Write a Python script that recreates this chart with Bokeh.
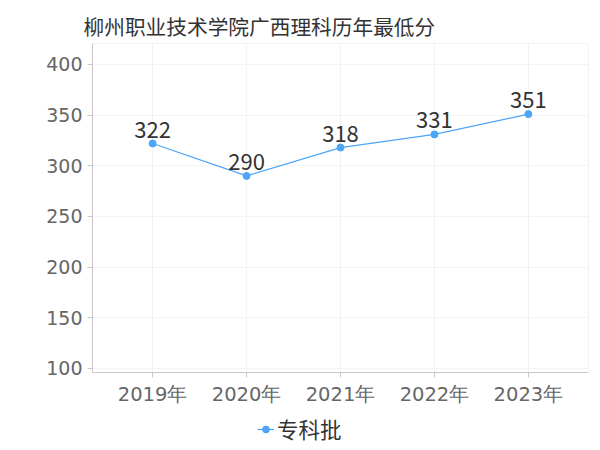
from bokeh.plotting import figure
from bokeh.layouts import column
from bokeh.models import (Range1d, FixedTicker, ColumnDataSource, Legend, LegendItem,
                          LabelSet)
from bokeh.embed import file_html
from bokeh.resources import INLINE
from bokeh.core.properties import value

title_text = "柳州职业技术学院广西理科历年最低分"
years = ["2019年", "2020年", "2021年", "2022年", "2023年"]
scores = [322, 290, 318, 331, 351]
series_name = "专科批"
y_ticks = [100, 150, 200, 250, 300, 350, 400]

xs = list(range(len(years)))
src = ColumnDataSource(dict(x=xs, y=scores, label=[str(s) for s in scores]))

LINE_COLOR = "#4ca5f7"
GRID = "#f3f3f3"
AXIS = "#c8c8c8"

p = figure(width=596, height=410, output_backend="svg", toolbar_location=None,
           x_range=Range1d(-0.64, 4.64), y_range=Range1d(96, 420.7),
           min_border_left=92, min_border_right=8, min_border_top=43,
           min_border_bottom=38, title=title_text)

p.title.text_font = "Noto Sans CJK SC"
p.title.text_font_size = "20.7px"
p.title.text_font_style = "normal"
p.title.text_color = "#333333"
p.title.align = "left"
p.title.offset = -9
p.title.standoff = 6

p.outline_line_color = GRID

# axes
p.xaxis.ticker = FixedTicker(ticks=xs)
p.xaxis.major_label_overrides = {i: y for i, y in enumerate(years)}
p.yaxis.ticker = FixedTicker(ticks=y_ticks)
for ax in (p.xaxis[0], p.yaxis[0]):
    ax.axis_line_color = AXIS
    ax.major_tick_line_color = AXIS
    ax.major_tick_out = 5
    ax.major_tick_in = 0
    ax.minor_tick_line_color = None
    ax.major_label_text_font = "DejaVu Sans"
    ax.major_label_text_color = "#666666"
p.yaxis.major_label_text_font_size = "19px"
p.xaxis.major_label_text_font_size = "19.5px"
p.yaxis.major_label_standoff = 5
p.xaxis.major_label_standoff = 5

p.xgrid.ticker = FixedTicker(ticks=xs)
p.xgrid.grid_line_color = GRID
p.ygrid.grid_line_color = GRID

ln = p.line("x", "y", source=src, line_color=LINE_COLOR, line_width=1.2)
pt = p.scatter("x", "y", source=src, size=7, fill_color=LINE_COLOR,
               line_color=LINE_COLOR)

labels = LabelSet(x="x", y="y", text="label", source=src, y_offset=6,
                  text_align="center", text_baseline="alphabetic",
                  text_font=value("Noto Sans CJK SC"), text_font_size="22px",
                  text_color="#333333")
p.add_layout(labels)

# legend strip below the chart
p2 = figure(width=596, height=36, output_backend="svg", toolbar_location=None,
            x_range=Range1d(0, 1), y_range=Range1d(0, 1), min_border=0)
p2.axis.visible = False
p2.grid.visible = False
p2.outline_line_color = None
lg_ln = p2.line("x", "y", source=src, line_color=LINE_COLOR, line_width=1.2,
                visible=False)
lg_pt = p2.scatter("x", "y", source=src, size=7, fill_color=LINE_COLOR,
                   line_color=LINE_COLOR, visible=False)
legend = Legend(items=[LegendItem(label=series_name, renderers=[lg_ln, lg_pt])],
                location=(165, 2), orientation="horizontal",
                border_line_color=None, background_fill_alpha=0,
                label_text_font="Noto Sans CJK SC", label_text_font_size="21.5px",
                label_text_color="#333333", glyph_width=17, glyph_height=18,
                label_standoff=3, padding=2, margin=0)
p2.add_layout(legend)

layout = column(p, p2, spacing=0)
open("out.html", "w").write(file_html(layout, INLINE))
